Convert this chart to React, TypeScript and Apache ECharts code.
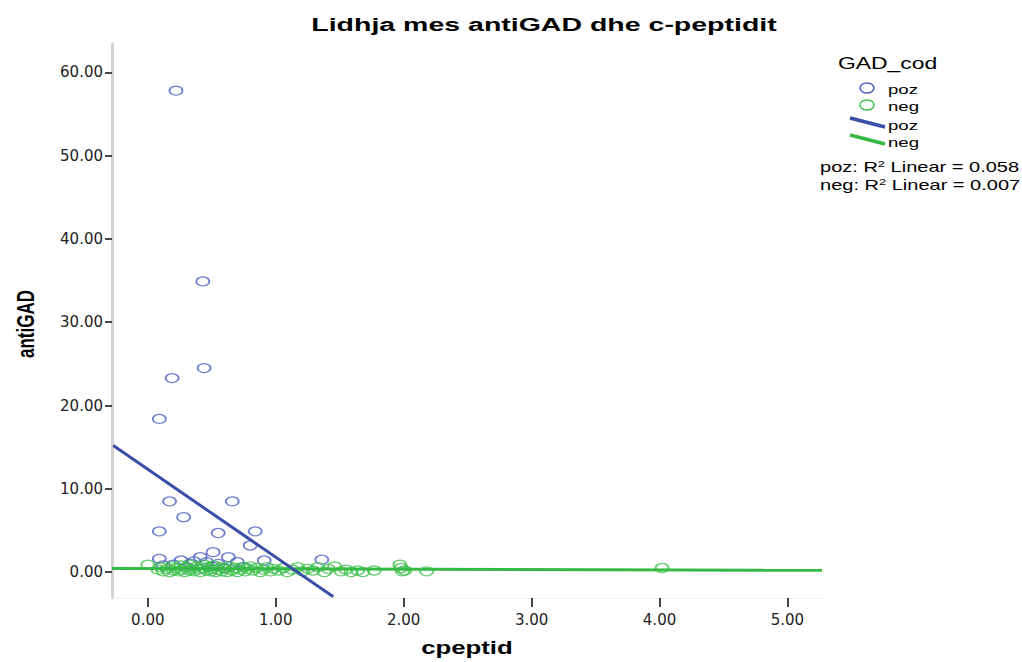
import React, { useEffect, useRef } from "react";
import * as echarts from "echarts";

const titleText = "Lidhja mes antiGAD dhe c-peptidit";
const xName = "cpeptid";
const yName = "antiGAD";
const legendTitle = "GAD_cod";
const groupNames = ["poz", "neg"];
const r2Values = ["0.058", "0.007"];

const xTicks = [0, 1, 2, 3, 4, 5];
const yTicks = [0, 10, 20, 30, 40, 50, 60];

// [cpeptid, antiGAD]
const pozPoints: number[][] = [
  [0.22, 57.8], [0.43, 34.9], [0.19, 23.3], [0.44, 24.5], [0.09, 18.4],
  [0.17, 8.5], [0.66, 8.5], [0.28, 6.6], [0.09, 4.9], [0.55, 4.7],
  [0.84, 4.9], [0.8, 3.2], [0.51, 2.4], [0.09, 1.6], [0.26, 1.4],
  [0.41, 1.8], [0.63, 1.8], [0.7, 1.2], [0.91, 1.4], [1.36, 1.5],
  [0.33, 1.0], [0.46, 1.2], [0.2, 0.9], [0.36, 1.3], [0.55, 1.0],
  [0.12, 0.8], [0.3, 0.6], [0.5, 0.7], [0.75, 0.6], [0.6, 0.5],
];

const negPoints: number[][] = [
  [0.0, 0.9], [0.08, 0.3], [0.1, 0.6], [0.12, 0.1], [0.15, 0.4], [0.17, 0.0],
  [0.19, 0.7], [0.2, 0.2], [0.22, 0.5], [0.24, 0.1], [0.26, 0.8], [0.27, 0.3],
  [0.29, 0.0], [0.3, 0.6], [0.32, 0.2], [0.33, 0.9], [0.35, 0.4], [0.36, 0.1],
  [0.38, 0.7], [0.4, 0.3], [0.41, 0.0], [0.43, 0.5], [0.44, 0.9], [0.46, 0.2],
  [0.47, 0.6], [0.49, 0.1], [0.5, 0.4], [0.52, 0.8], [0.53, 0.0], [0.55, 0.3],
  [0.57, 0.6], [0.58, 0.1], [0.6, 0.4], [0.62, 0.0], [0.64, 0.7], [0.66, 0.2],
  [0.68, 0.5], [0.7, 0.0], [0.72, 0.3], [0.74, 0.6], [0.76, 0.1], [0.78, 0.4],
  [0.8, 0.7], [0.82, 0.2], [0.85, 0.5], [0.88, 0.0], [0.9, 0.3], [0.93, 0.6],
  [0.96, 0.1], [0.98, 0.4], [1.02, 0.2], [1.06, 0.5], [1.09, 0.0], [1.13, 0.3],
  [1.17, 0.6], [1.21, 0.1], [1.25, 0.4], [1.29, 0.2], [1.33, 0.6], [1.38, 0.0],
  [1.41, 0.4], [1.46, 0.7], [1.51, 0.1], [1.55, 0.3], [1.59, 0.0], [1.64, 0.2],
  [1.68, 0.0], [1.77, 0.2], [1.97, 0.9], [1.98, 0.5], [1.99, 0.1], [2.01, 0.2],
  [2.18, 0.1], [4.02, 0.5],
];

// fit lines (endpoints)
const pozFit: number[][] = [[-0.27, 15.2], [1.45, -2.96]];
const negFit: number[][] = [[-0.28, 0.45], [5.27, 0.22]];

const BLUE = "#4b5fc2";
const BLUE_LINE = "#3a4ea8";
const GREEN = "#3fc04c";
const GREEN_LINE = "#36b845";
const S = 1.43;
const FONT = '"Liberation Sans", Arial, sans-serif';

export default function App() {
  const ref = useRef<HTMLDivElement>(null);
  useEffect(() => {
    const chart = echarts.init(ref.current as HTMLDivElement, null, { renderer: "svg" });
    const txt = (text: string, x: number, y: number, size: number, bold: boolean, extra: any = {}) => ({
      type: "text",
      x,
      y,
      scaleX: S,
      silent: true,
      ...extra,
      style: {
        text,
        fontSize: size,
        fontWeight: bold ? "bold" : "normal",
        fontFamily: FONT,
        fill: "#000",
        align: extra.align || "left",
        verticalAlign: "middle",
        ...(extra.style || {}),
      },
    });
    const supRich = {
      rich: { sup: { fontSize: 9, fontFamily: FONT, fill: "#000", verticalAlign: "top", padding: [0, 0, 7, 0] } },
    };
    chart.setOption({
      animation: false,
      backgroundColor: "#fff",
      grid: { left: 112, right: 200, top: 44, bottom: 64, containLabel: false },
      xAxis: {
        type: "value",
        min: -0.28,
        max: 5.27,
        axisLine: { show: true, onZero: false, lineStyle: { color: "#f0f0f0", width: 1 } },
        axisTick: { show: true, length: 9, customValues: xTicks, lineStyle: { color: "#444", width: 2 } },
        axisLabel: {
          customValues: xTicks,
          margin: 14,
          fontFamily: '"DejaVu Sans", sans-serif',
          fontSize: 15,
          color: "#222",
          formatter: (v: number) => v.toFixed(2),
        },
        splitLine: { show: false },
      },
      yAxis: {
        type: "value",
        min: -3.1,
        max: 63.4,
        axisLine: { show: true, onZero: false, lineStyle: { color: "#d2d2d2", width: 3 } },
        axisTick: { show: true, length: 7, customValues: yTicks, lineStyle: { color: "#444", width: 2 } },
        axisLabel: {
          customValues: yTicks,
          margin: 9,
          fontFamily: '"DejaVu Sans", sans-serif',
          fontSize: 15,
          color: "#222",
          formatter: (v: number) => v.toFixed(2),
        },
        splitLine: { show: false },
      },
      series: [
        {
          name: groupNames[0],
          type: "scatter",
          data: pozPoints,
          symbol: "circle",
          symbolSize: [13, 9],
          itemStyle: { color: "rgba(0,0,0,0)", borderColor: BLUE, borderWidth: 1.5 },
          z: 2,
        },
        {
          name: groupNames[1],
          type: "scatter",
          data: negPoints,
          symbol: "circle",
          symbolSize: [13, 9],
          itemStyle: { color: "rgba(0,0,0,0)", borderColor: GREEN, borderWidth: 1.5 },
          z: 3,
        },
        {
          name: groupNames[1] + " fit",
          type: "line",
          data: negFit,
          symbol: "none",
          lineStyle: { color: GREEN_LINE, width: 3 },
          z: 4,
        },
        {
          name: groupNames[0] + " fit",
          type: "line",
          data: pozFit,
          symbol: "none",
          lineStyle: { color: BLUE_LINE, width: 3 },
          z: 5,
        },
      ],
      graphic: [
        txt(titleText, 544, 24, 19, true, { align: "center", scaleX: 1.5 }),
        txt(xName, 467, 648, 18, true, { align: "center" }),
        {
          type: "text",
          x: 25,
          y: 324,
          rotation: Math.PI / 2,
          scaleY: S,
          silent: true,
          style: {
            text: yName,
            fontSize: 17,
            fontWeight: "bold",
            fontFamily: FONT,
            fill: "#000",
            align: "center",
            verticalAlign: "middle",
          },
        },
        txt(legendTitle, 838, 63, 16, false),
        {
          type: "ellipse",
          shape: { cx: 867, cy: 88, rx: 7, ry: 5 },
          style: { fill: "none", stroke: BLUE, lineWidth: 1.5 },
        },
        {
          type: "ellipse",
          shape: { cx: 867, cy: 105, rx: 7, ry: 5 },
          style: { fill: "none", stroke: GREEN, lineWidth: 1.5 },
        },
        {
          type: "line",
          shape: { x1: 850, y1: 118, x2: 885, y2: 127 },
          style: { stroke: BLUE_LINE, lineWidth: 3.5 },
        },
        {
          type: "line",
          shape: { x1: 850, y1: 135, x2: 885, y2: 144 },
          style: { stroke: GREEN_LINE, lineWidth: 3.5 },
        },
        txt(groupNames[0], 888, 89, 13, false),
        txt(groupNames[1], 888, 106, 13, false),
        txt(groupNames[0], 888, 125, 13, false),
        txt(groupNames[1], 888, 142, 13, false),
        txt(`${groupNames[0]}: R{sup|2} Linear = ${r2Values[0]}`, 820, 167, 14, false, { style: supRich }),
        txt(`${groupNames[1]}: R{sup|2} Linear = ${r2Values[1]}`, 820, 185, 14, false, { style: supRich }),
      ],
    });
    return () => chart.dispose();
  }, []);
  return (
    <div
      ref={ref}
      style={{ position: "absolute", left: 0, top: 0, width: 1022, height: 662, background: "#fff" }}
    />
  );
}
